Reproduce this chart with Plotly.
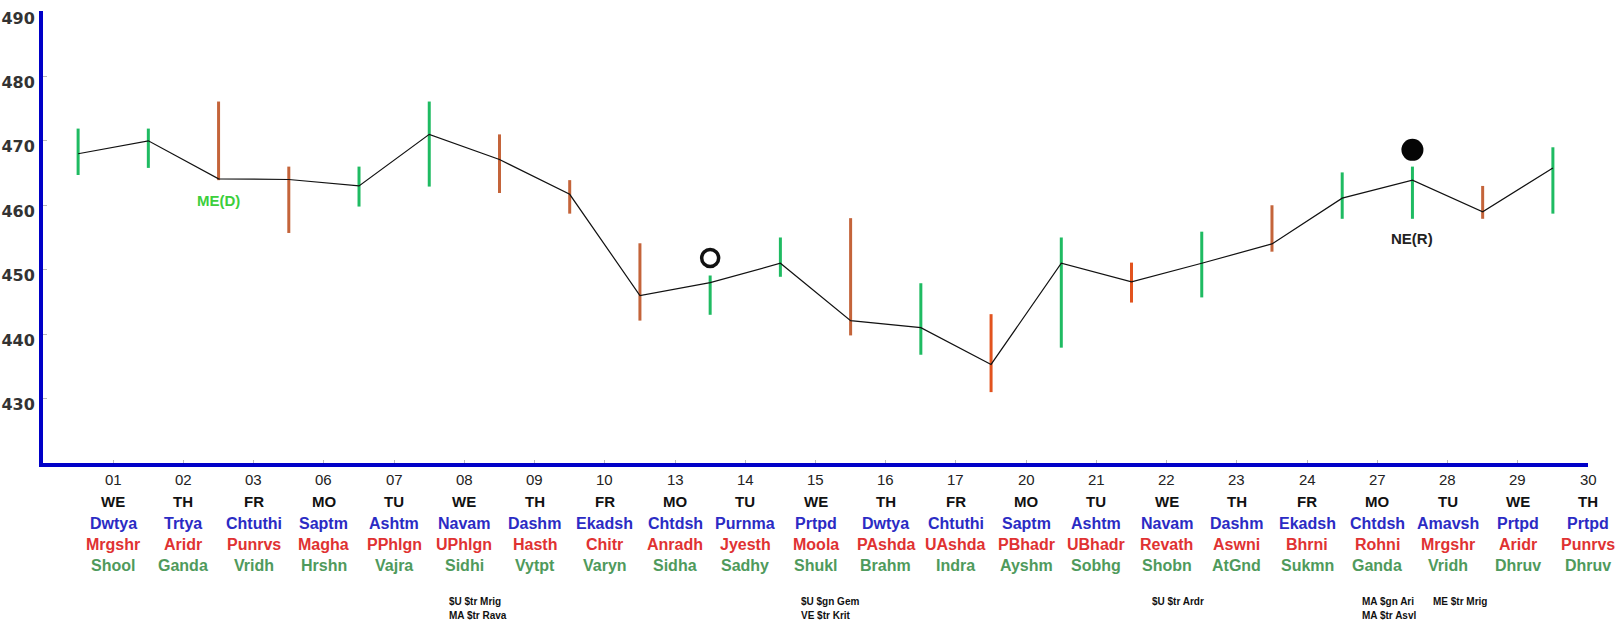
import plotly.graph_objects as go

dates = ["01","02","03","06","07","08","09","10","13","14","15","16","17","20","21","22","23","24","27","28","29","30"]
weekdays = ["WE","TH","FR","MO","TU","WE","TH","FR","MO","TU","WE","TH","FR","MO","TU","WE","TH","FR","MO","TU","WE","TH"]
tithi = ["Dwtya","Trtya","Chtuthi","Saptm","Ashtm","Navam","Dashm","Ekadsh","Chtdsh","Purnma","Prtpd",
         "Dwtya","Chtuthi","Saptm","Ashtm","Navam","Dashm","Ekadsh","Chtdsh","Amavsh","Prtpd","Prtpd"]
nakshatra = ["Mrgshr","Aridr","Punrvs","Magha","PPhlgn","UPhlgn","Hasth","Chitr","Anradh","Jyesth","Moola",
             "PAshda","UAshda","PBhadr","UBhadr","Revath","Aswni","Bhrni","Rohni","Mrgshr","Aridr","Punrvs"]
yoga = ["Shool","Ganda","Vridh","Hrshn","Vajra","Sidhi","Vytpt","Varyn","Sidha","Sadhy","Shukl",
        "Brahm","Indra","Ayshm","Sobhg","Shobn","AtGnd","Sukmn","Ganda","Vridh","Dhruv","Dhruv"]

close = [468.0, 470.0, 464.1, 464.0, 463.0, 471.0, 467.1, 461.7, 446.0, 448.0, 451.0,
         442.1, 441.0, 435.3, 451.0, 448.1, 451.0, 454.0, 461.1, 463.9, 459.0, 465.8]
high = [471.9, 471.9, 476.1, 466.0, 466.0, 476.1, 471.0, 463.9, 454.1, 449.1, 455.0,
        458.0, 447.9, 443.1, 455.0, 451.1, 455.9, 460.0, 465.1, 466.0, 463.0, 469.0]
low = [464.7, 465.8, 463.9, 455.7, 459.8, 462.9, 461.9, 458.7, 442.1, 443.0, 448.9,
       439.8, 436.8, 431.0, 437.9, 444.9, 445.7, 452.8, 457.9, 457.9, 457.9, 458.7]
bar_kind = ["up","up","down","down","up","up","down","down","down","up","up",
            "down","up","down2","up","down2","up","down","up","up","down","up"]

notes_date = ["08", "15", "22", "27", "28"]
notes_line1 = ["$U $tr Mrig", "$U $gn Gem", "$U $tr Ardr", "MA $gn Ari", "ME $tr Mrig"]
notes_line2 = ["MA $tr Rava", "VE $tr Krit", "", "MA $tr Asvl", ""]

event_open_date, event_open_value = "14", 451.8
event_fill_date, event_fill_value = "28", 468.6
label_med = ("03", 460.7, "ME(D)")
label_ner = ("28", 454.8, "NE(R)")

y_ticks = [430, 440, 450, 460, 470, 480, 490]

kind_colors = {"up": "#1fbb62", "down": "#c4643a", "down2": "#e2531e"}

n = len(dates)
bar_x = [i - 0.5 for i in range(n)]
pos = {d: i - 0.5 for i, d in enumerate(dates)}

fig = go.Figure()

for kind, col in kind_colors.items():
    xs, ys = [], []
    for i in range(n):
        if bar_kind[i] == kind:
            xs += [bar_x[i], bar_x[i], None]
            ys += [low[i], high[i], None]
    fig.add_trace(go.Scatter(x=xs, y=ys, mode="lines", line=dict(color=col, width=3),
                             hoverinfo="skip", showlegend=False))

fig.add_trace(go.Scatter(x=bar_x, y=close, mode="lines", line=dict(color="#111111", width=1.2),
                         showlegend=False))

fig.add_trace(go.Scatter(x=[pos[event_open_date]], y=[event_open_value], mode="markers",
                         marker=dict(symbol="circle-open", size=17, color="#111111",
                                     line=dict(width=3.5, color="#111111")), showlegend=False))
fig.add_trace(go.Scatter(x=[pos[event_fill_date]], y=[event_fill_value], mode="markers",
                         marker=dict(symbol="circle", size=22, color="#050505"), showlegend=False))

ann = []
ann.append(dict(x=pos[label_med[0]], y=label_med[1], xref="x", yref="y", text="<b>" + label_med[2] + "</b>",
                showarrow=False, font=dict(family="Liberation Sans, Arial", size=15, color="#3ccf3c")))
ann.append(dict(x=pos[label_ner[0]], y=label_ner[1], xref="x", yref="y", text="<b>" + label_ner[2] + "</b>",
                showarrow=False, font=dict(family="Liberation Sans, Arial", size=15, color="#222222")))

rows = [
    (dates, -16, 15, "#222222", False),
    (weekdays, -38, 15, "#111111", True),
    (tithi, -60, 16, "#2b2bc4", True),
    (nakshatra, -81, 16, "#e03232", True),
    (yoga, -102, 16, "#4f9a5c", True),
]
for labels, shift, size, col, bold in rows:
    for i, t in enumerate(labels):
        ann.append(dict(x=i, y=0, xref="x", yref="paper", yanchor="middle", yshift=shift,
                        text=("<b>%s</b>" % t) if bold else t, showarrow=False,
                        font=dict(family="Liberation Sans, Arial", size=size, color=col)))

for d, l1, l2 in zip(notes_date, notes_line1, notes_line2):
    i = dates.index(d)
    for t, shift in ((l1, -138), (l2, -152)):
        if t:
            ann.append(dict(x=i, y=0, xref="x", yref="paper", xanchor="left", yanchor="middle",
                            xshift=-17, yshift=shift, text="<b>%s</b>" % t, showarrow=False,
                            font=dict(family="Liberation Sans, Arial", size=10, color="#111111")))

fig.update_layout(
    width=1621, height=622,
    margin=dict(l=43, r=33, t=11, b=159),
    paper_bgcolor="white", plot_bgcolor="white",
    annotations=ann,
    showlegend=False,
)
fig.update_xaxes(range=[-1, 21], showgrid=False, zeroline=False, showticklabels=False,
                 tickvals=list(range(n)), ticks="inside", ticklen=3, tickcolor="#bbbbbb",
                 showline=True, linecolor="#0000c8", linewidth=4, automargin=False)
fig.update_yaxes(range=[420, 490.15], showgrid=False, zeroline=False,
                 tickvals=y_ticks, ticklabeloverflow="allow", automargin=False,
                 ticks="inside", ticklen=4, tickcolor="#bbbbbb", ticklabelshift=6,
                 ticklabelstandoff=1,
                 tickfont=dict(family="DejaVu Sans", size=16, color="#333333", weight="bold"),
                 showline=True, linecolor="#0000c8", linewidth=4)

fig.write_html("out.html", config={"displayModeBar": False},
               post_script="document.body.style.margin='0';document.body.style.overflow='hidden';")
